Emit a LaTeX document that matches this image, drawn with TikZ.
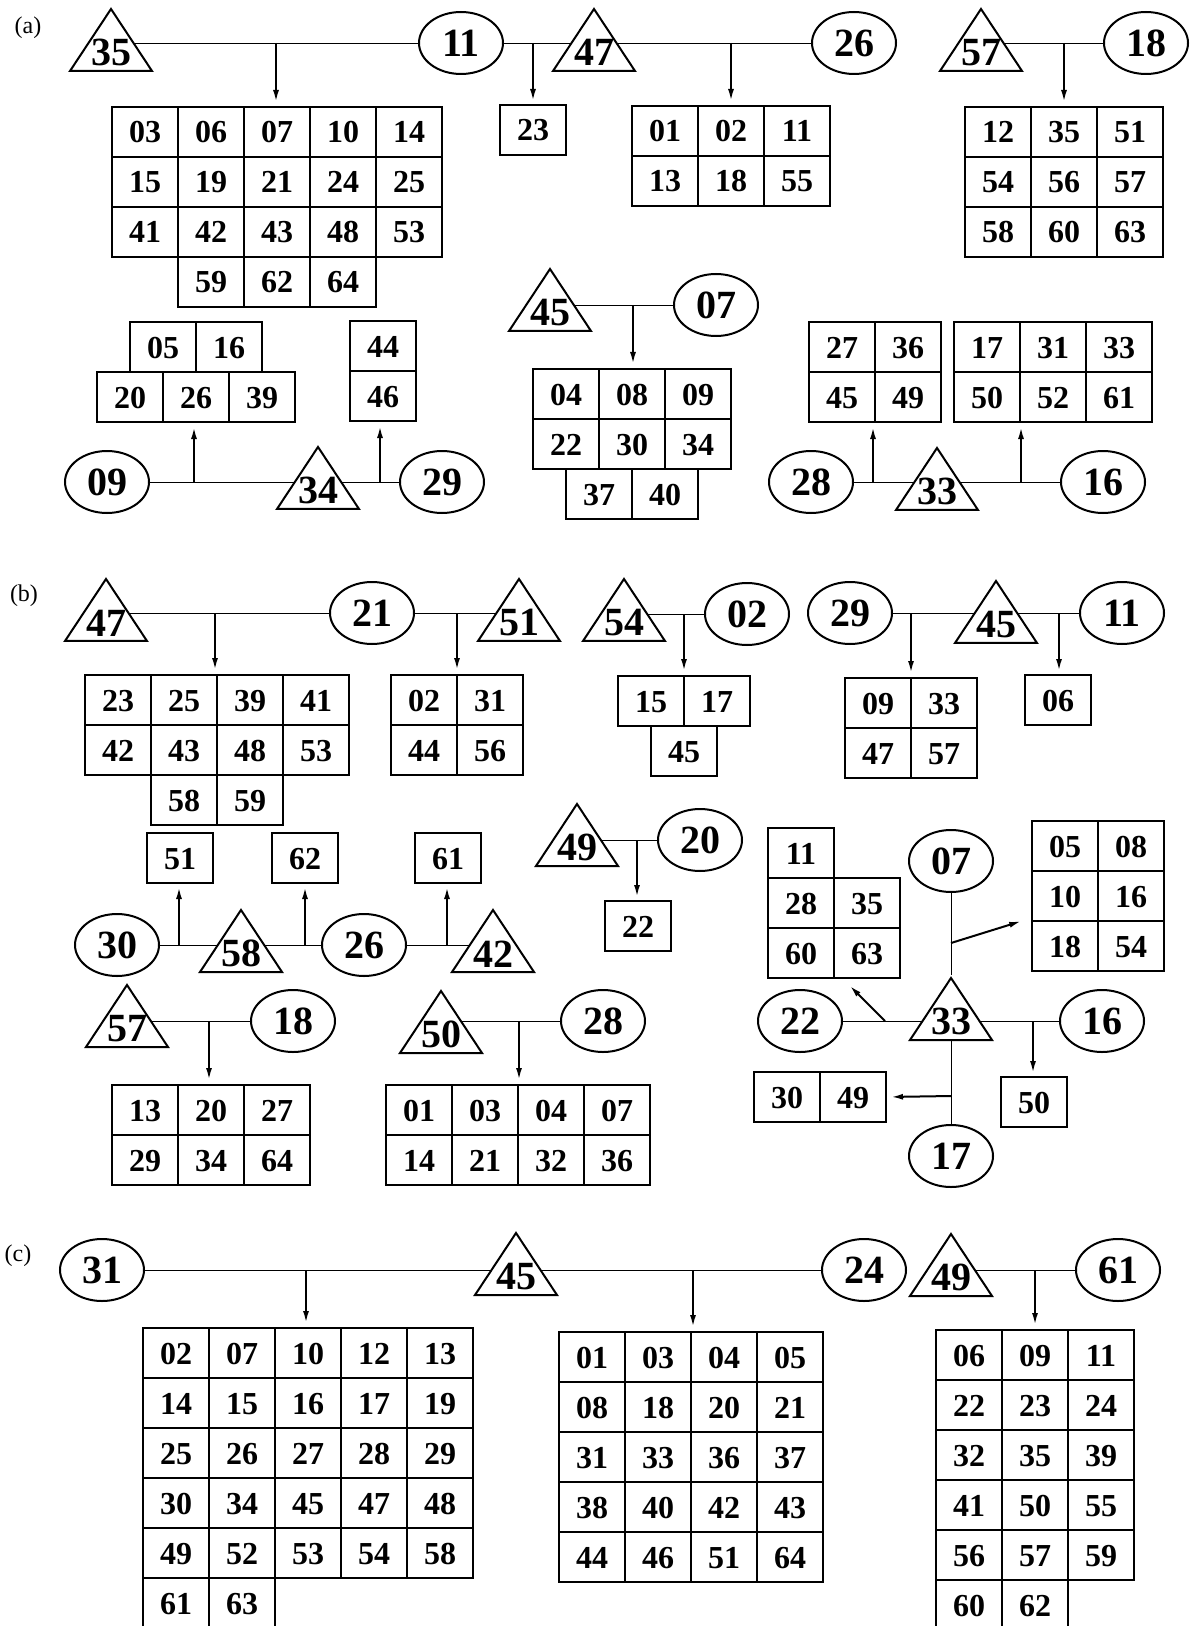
\documentclass[tikz,border=0pt]{standalone}
\usepackage{fontspec}
\setmainfont{Liberation Serif}
\usetikzlibrary{arrows.meta,backgrounds,calc,matrix,shapes.geometric}

\begin{document}
\begin{tikzpicture}[
  x=0.5pt, y=-0.5pt,
  >={Latex[length=6pt,width=3pt]},
  line width=1pt,
  cell/.style={draw, minimum width=33pt, minimum height=25pt, inner sep=0pt, outer sep=0pt, text height=11pt, text depth=0pt, anchor=center, font=\fontsize{16}{16}\selectfont\bfseries},
  tab/.style={matrix of nodes, nodes={cell}, column sep=-1pt, row sep=-1pt, inner sep=0pt, outer sep=0pt},
  num/.style={inner sep=0pt, font=\fontsize{20}{20}\selectfont\bfseries},
  oval/.style={ellipse, draw, fill=white, minimum width=42pt, minimum height=31pt, inner sep=0pt, num},
  tri/.style={isosceles triangle, isosceles triangle stretches, shape border rotate=90, draw, fill=white, minimum width=41pt, minimum height=31pt, inner sep=0pt, anchor=south, label={[num, anchor=south, yshift=2.5pt]south:#1}},
  panel/.style={font=\fontsize{12}{12}\selectfont},
  link/.style={->, shorten >=2pt}
]
  \useasboundingbox (0,0) rectangle (1191,1626);

  \node[panel] (lbla) at (28,28) {(a)};
  \node[tri=35] (t35) at (111,72) {};
  \node[oval] (e11) at (461,43) {11};
  \node[tri=47] (t47a) at (594,72) {};
  \node[oval] (e26a) at (854,43) {26};
  \node[tri=57] (t57a) at (981,72) {};
  \node[oval] (e18a) at (1146,43) {18};
  \coordinate (pA1) at (276,43);
  \coordinate (pA2) at (533,43);
  \coordinate (pA3) at (731,43);
  \coordinate (pA4) at (1064,43);

  \matrix[tab, anchor=north west] (tA1) at (111,106) {
    03 & 06 & 07 & 10 & 14 \\
    15 & 19 & 21 & 24 & 25 \\
    41 & 42 & 43 & 48 & 53 \\
       & 59 & 62 & 64 &    \\
  };
  \node[cell, anchor=north west] (c23) at (500,105) {23};
  \matrix[tab, anchor=north west] (tA2) at (631,105) {
    01 & 02 & 11 \\
    13 & 18 & 55 \\
  };
  \matrix[tab, anchor=north west] (tA3) at (964,106) {
    12 & 35 & 51 \\
    54 & 56 & 57 \\
    58 & 60 & 63 \\
  };

  \matrix[tab, anchor=north west] (tA4) at (96,371) {
    20 & 26 & 39 \\
  };
  \matrix[tab, anchor=south] (tA4x) at ([yshift=-1pt]tA4.north) {
    05 & 16 \\
  };
  \matrix[tab, anchor=north west] (tA5) at (349,320) {
    44 \\
    46 \\
  };
  \node[oval] (e09) at (107,482) {09};
  \node[tri=34] (t34) at (318,510) {};
  \node[oval] (e29a) at (442,482) {29};
  \coordinate (pA5) at (194,482);
  \coordinate (pA6) at (380,482);

  \node[tri=45] (t45a) at (550,332) {};
  \node[oval] (e07a) at (716,305) {07};
  \coordinate (pA7) at (633,305);
  \matrix[tab, anchor=north west] (tA6) at (532,368) {
    04 & 08 & 09 \\
    22 & 30 & 34 \\
  };
  \matrix[tab, anchor=north] (tA6x) at ([yshift=1pt]tA6.south) {
    37 & 40 \\
  };

  \matrix[tab, anchor=north west] (tA7) at (808,321) {
    27 & 36 \\
    45 & 49 \\
  };
  \matrix[tab, anchor=north west] (tA8) at (953,321) {
    17 & 31 & 33 \\
    50 & 52 & 61 \\
  };
  \node[oval] (e28a) at (811,482) {28};
  \node[tri=33] (t33a) at (937,511) {};
  \node[oval] (e16a) at (1103,482) {16};
  \coordinate (pA8) at (873,482);
  \coordinate (pA9) at (1021,482);

  \node[panel] (lblb) at (24,596) {(b)};
  \node[tri=47] (t47b) at (106,642) {};
  \node[oval] (e21) at (372,613) {21};
  \node[tri=51] (t51) at (519,642) {};
  \coordinate (pB1) at (215,613);
  \coordinate (pB2) at (457,613);
  \matrix[tab, anchor=north west] (tB1) at (84,674) {
    23 & 25 & 39 & 41 \\
    42 & 43 & 48 & 53 \\
       & 58 & 59 &    \\
  };
  \matrix[tab, anchor=north west] (tB2) at (390,674) {
    02 & 31 \\
    44 & 56 \\
  };

  \node[tri=54] (t54) at (624,642) {};
  \node[oval] (e02) at (747,614) {02};
  \coordinate (pB3) at (684,614);
  \matrix[tab, anchor=north west] (tB5) at (617,675) {
    15 & 17 \\
  };
  \node[cell, anchor=north] (c45) at ([yshift=0.5pt]tB5.south) {45};

  \node[oval] (e29b) at (850,613) {29};
  \node[tri=45] (t45b) at (996,644) {};
  \node[oval] (e11b) at (1122,613) {11};
  \coordinate (pB4) at (911,613);
  \coordinate (pB5) at (1059,613);
  \matrix[tab, anchor=north west] (tB6) at (844,677) {
    09 & 33 \\
    47 & 57 \\
  };
  \node[cell, anchor=north west] (c06) at (1025,675) {06};

  \node[cell, anchor=north west] (c51) at (147,833) {51};
  \node[cell, anchor=north west] (c62) at (272,833) {62};
  \node[cell, anchor=north west] (c61) at (415,833) {61};
  \node[oval] (e30) at (117,945) {30};
  \node[tri=58] (t58) at (241,973) {};
  \node[oval] (e26b) at (364,945) {26};
  \node[tri=42] (t42) at (493,973) {};
  \coordinate (pB6) at (179,945);
  \coordinate (pB7) at (305,945);
  \coordinate (pB8) at (447,945);

  \node[tri=49] (t49b) at (577,867) {};
  \node[oval] (e20) at (700,840) {20};
  \coordinate (pB9) at (637,840);
  \node[cell, anchor=north west] (c22) at (605,901) {22};

  \node[tri=57] (t57b) at (127,1048) {};
  \node[oval] (e18b) at (293,1021) {18};
  \coordinate (pB10) at (209,1021);
  \matrix[tab, anchor=north west] (tB3) at (111,1084) {
    13 & 20 & 27 \\
    29 & 34 & 64 \\
  };
  \node[tri=50] (t50) at (441,1054) {};
  \node[oval] (e28b) at (603,1021) {28};
  \coordinate (pB11) at (519,1021);
  \matrix[tab, anchor=north west] (tB4) at (385,1084) {
    01 & 03 & 04 & 07 \\
    14 & 21 & 32 & 36 \\
  };

  \matrix[tab, anchor=north west] (tB7) at (767,827) {
    11 &    \\
    28 & 35 \\
    60 & 63 \\
  };
  \matrix[tab, anchor=north west] (tB8) at (1031,820) {
    05 & 08 \\
    10 & 16 \\
    18 & 54 \\
  };
  \node[oval] (e07b) at (951,861) {07};
  \node[tri=33] (t33b) at (951,1041) {};
  \node[oval] (e22b) at (800,1021) {22};
  \node[oval] (e16b) at (1102,1021) {16};
  \node[oval] (e17) at (951,1156) {17};
  \matrix[tab, anchor=north west] (tB9) at (753,1071) {
    30 & 49 \\
  };
  \node[cell, anchor=north west] (c50) at (1001,1077) {50};
  \coordinate (pB12) at (951,943);
  \coordinate (qB12) at (1025,920);
  \coordinate (pB13) at (885,1021);
  \coordinate (qB13) at (847,983);
  \coordinate (pB14) at (1033,1021);
  \coordinate (pB15) at (951,1096);

  \node[panel] (lblc) at (18,1256) {(c)};
  \node[oval] (e31) at (102,1270) {31};
  \node[tri=45] (t45c) at (516,1296) {};
  \node[oval] (e24) at (864,1270) {24};
  \node[tri=49] (t49c) at (951,1297) {};
  \node[oval] (e61) at (1118,1270) {61};
  \coordinate (pC1) at (306,1270);
  \coordinate (pC2) at (693,1270);
  \coordinate (pC3) at (1035,1270);
  \matrix[tab, anchor=north west] (tC1) at (142,1327) {
    02 & 07 & 10 & 12 & 13 \\
    14 & 15 & 16 & 17 & 19 \\
    25 & 26 & 27 & 28 & 29 \\
    30 & 34 & 45 & 47 & 48 \\
    49 & 52 & 53 & 54 & 58 \\
    61 & 63 &    &    &    \\
  };
  \matrix[tab, anchor=north west] (tC2) at (558,1331) {
    01 & 03 & 04 & 05 \\
    08 & 18 & 20 & 21 \\
    31 & 33 & 36 & 37 \\
    38 & 40 & 42 & 43 \\
    44 & 46 & 51 & 64 \\
  };
  \matrix[tab, anchor=north west] (tC3) at (935,1329) {
    06 & 09 & 11 \\
    22 & 23 & 24 \\
    32 & 35 & 39 \\
    41 & 50 & 55 \\
    56 & 57 & 59 \\
    60 & 62 &    \\
  };

  \begin{scope}[on background layer]
    \draw (t35 |- e11) -- (e11);
    \draw (e11) -- (e11 -| t47a);
    \draw (t47a |- e26a) -- (e26a);
    \draw (t57a |- e18a) -- (e18a);
    \draw (e09) -- (e29a);
    \draw (t45a |- e07a) -- (e07a);
    \draw (e28a) -- (e16a);
    \draw (t47b |- e21) -- (e21);
    \draw (e21) -- (e21 -| t51);
    \draw (t54 |- e02) -- (e02);
    \draw (e29b) -- (e11b);
    \draw (e30) -- (e26b);
    \draw (e26b) -- (e26b -| t42);
    \draw (t49b |- e20) -- (e20);
    \draw (t57b |- e18b) -- (e18b);
    \draw (t50 |- e28b) -- (e28b);
    \draw (e07b) -- (t33b.apex);
    \draw (t33b.south) -- (e17);
    \draw (e22b) -- (e16b);
    \draw (e31) -- (e24);
    \draw (t49c |- e61) -- (e61);
  \end{scope}

  \draw[link] (pA1) -- (pA1 |- tA1.north);
  \draw[link] (pA2) -- (pA2 |- c23.north);
  \draw[link] (pA3) -- (pA3 |- tA2.north);
  \draw[link] (pA4) -- (pA4 |- tA3.north);
  \draw[link] (pA5) -- (pA5 |- tA4.south);
  \draw[link] (pA6) -- (pA6 |- tA5.south);
  \draw[link] (pA7) -- (pA7 |- tA6.north);
  \draw[link] (pA8) -- (pA8 |- tA7.south);
  \draw[link] (pA9) -- (pA9 |- tA8.south);
  \draw[link] (pB1) -- (pB1 |- tB1.north);
  \draw[link] (pB2) -- (pB2 |- tB2.north);
  \draw[link] (pB3) -- (pB3 |- tB5.north);
  \draw[link] (pB4) -- (pB4 |- tB6.north);
  \draw[link] (pB5) -- (pB5 |- c06.north);
  \draw[link] (pB6) -- (pB6 |- c51.south);
  \draw[link] (pB7) -- (pB7 |- c62.south);
  \draw[link] (pB8) -- (pB8 |- c61.south);
  \draw[link] (pB9) -- (pB9 |- c22.north);
  \draw[link] (pB10) -- (pB10 |- tB3.north);
  \draw[link] (pB11) -- (pB11 |- tB4.north);
  \draw[link] (pB12) -- (qB12);
  \draw[link] (pB13) -- (qB13);
  \draw[link] (pB14) -- (pB14 |- c50.north);
  \draw[link] (pB15) -- (tB9.east);
  \draw[link] (pC1) -- (pC1 |- tC1.north);
  \draw[link] (pC2) -- (pC2 |- tC2.north);
  \draw[link] (pC3) -- (pC3 |- tC3.north);
\end{tikzpicture}
\end{document}
